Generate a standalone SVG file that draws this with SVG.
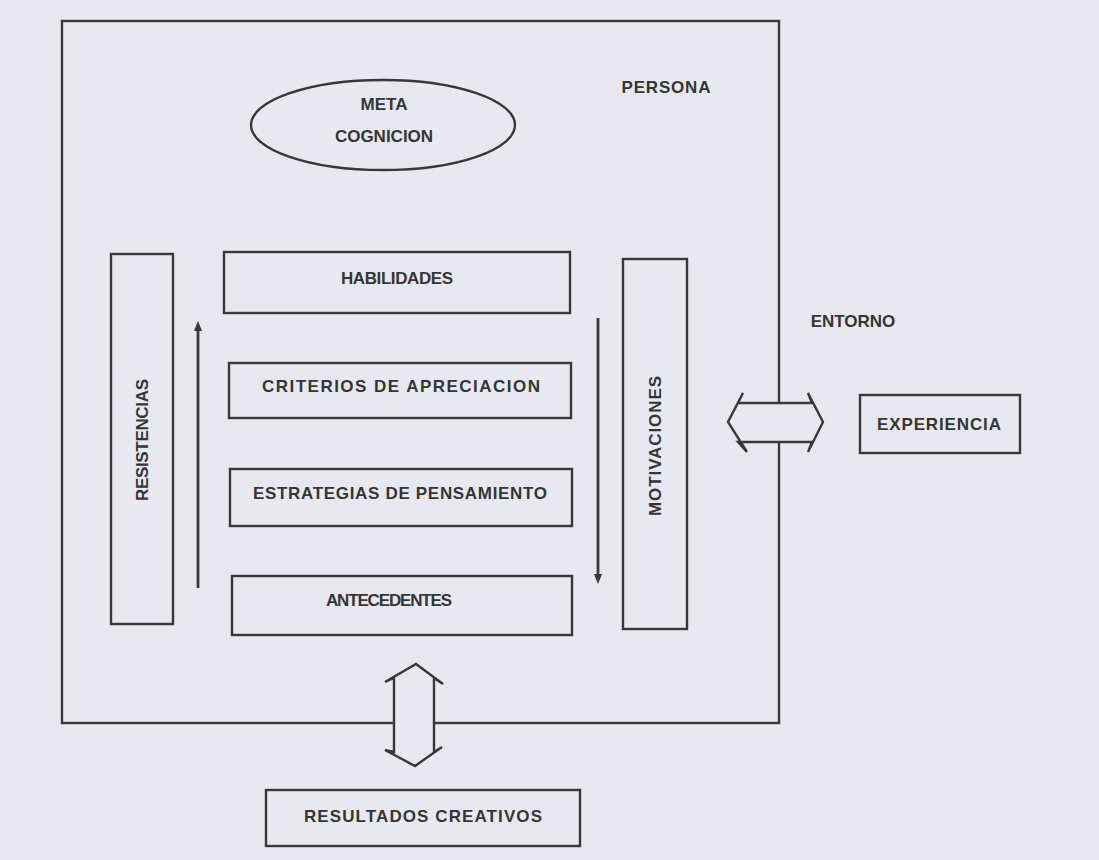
<svg xmlns="http://www.w3.org/2000/svg" width="1099" height="860" viewBox="0 0 1099 860">
  <defs>
    <style>
      .box { fill: none; stroke: #383838; stroke-width: 2.4; }
      .lbl { font-family: "Liberation Sans", Arial, sans-serif; font-weight: bold; font-size: 17px; fill: #353535; text-anchor: middle; }
      .flow { fill: none; stroke: #383838; stroke-width: 2.8; }
      .dbl { fill: #e8e9f0; stroke: #383838; stroke-width: 2.4; stroke-linejoin: miter; }
    </style>
    <marker id="head" viewBox="0 0 10 10" refX="5" refY="5" markerWidth="3.6" markerHeight="3.6" orient="auto" markerUnits="strokeWidth">
      <path d="M0,1 L10,5 L0,9 Z" fill="#383838"/>
    </marker>
  </defs>

  <rect x="0" y="0" width="1099" height="860" fill="#e8e9f0"/>

  <!-- PERSONA boundary -->
  <g id="persona">
    <rect class="box" x="62" y="21" width="717" height="702"/>
    <text class="lbl" x="666" y="93" textLength="89">PERSONA</text>
  </g>

  <g id="entorno">
    <text class="lbl" x="853" y="327">ENTORNO</text>
  </g>

  <g id="metacognicion">
    <ellipse class="box" cx="383" cy="125" rx="132" ry="45"/>
    <text class="lbl" x="384" y="110">META</text>
    <text class="lbl" x="384" y="142">COGNICION</text>
  </g>

  <g id="resistencias">
    <rect class="box" x="111" y="254" width="62" height="370"/>
    <text class="lbl" transform="translate(148,440) rotate(-90)" x="0" y="0" textLength="122">RESISTENCIAS</text>
  </g>

  <g id="habilidades">
    <rect class="box" x="224" y="252" width="346" height="61"/>
    <text class="lbl" x="397" y="284" textLength="112">HABILIDADES</text>
  </g>

  <g id="criterios">
    <rect class="box" x="229" y="363" width="342" height="55"/>
    <text class="lbl" x="401" y="392" textLength="278">CRITERIOS DE APRECIACION</text>
  </g>

  <g id="estrategias">
    <rect class="box" x="230" y="469" width="342" height="57"/>
    <text class="lbl" x="400" y="499" textLength="294">ESTRATEGIAS DE PENSAMIENTO</text>
  </g>

  <g id="antecedentes">
    <rect class="box" x="232" y="576" width="340" height="59"/>
    <text class="lbl" x="389" y="606" textLength="126">ANTECEDENTES</text>
  </g>

  <g id="motivaciones">
    <rect class="box" x="623" y="259" width="64" height="370"/>
    <text class="lbl" transform="translate(661,446) rotate(-90)" x="0" y="0" textLength="140">MOTIVACIONES</text>
  </g>

  <g id="experiencia">
    <rect class="box" x="860" y="395" width="160" height="58"/>
    <text class="lbl" x="939" y="430" textLength="124">EXPERIENCIA</text>
  </g>

  <g id="resultados">
    <rect class="box" x="266" y="790" width="314" height="56"/>
    <text class="lbl" x="423" y="822" textLength="238">RESULTADOS CREATIVOS</text>
  </g>

  <!-- connectors -->
  <g id="connectors">
    <line class="flow" x1="198" y1="588" x2="198" y2="326" marker-end="url(#head)"/>
    <line class="flow" x1="598" y1="318" x2="598" y2="579" marker-end="url(#head)"/>
    <!-- exchange with the environment -->
    <path class="dbl" d="M738,403 L812,403 L808,393 L823,422 L808,452 L812,442 L738,442 L747,452 L728,422 L743,393 Z"/>
    <!-- exchange with the creative results -->
    <path class="dbl" d="M394,678 L394,752 L385,750 L415,766 L442,747 L434,752 L434,678 L443,684 L416,664 L385,682 Z"/>
  </g>
</svg>
